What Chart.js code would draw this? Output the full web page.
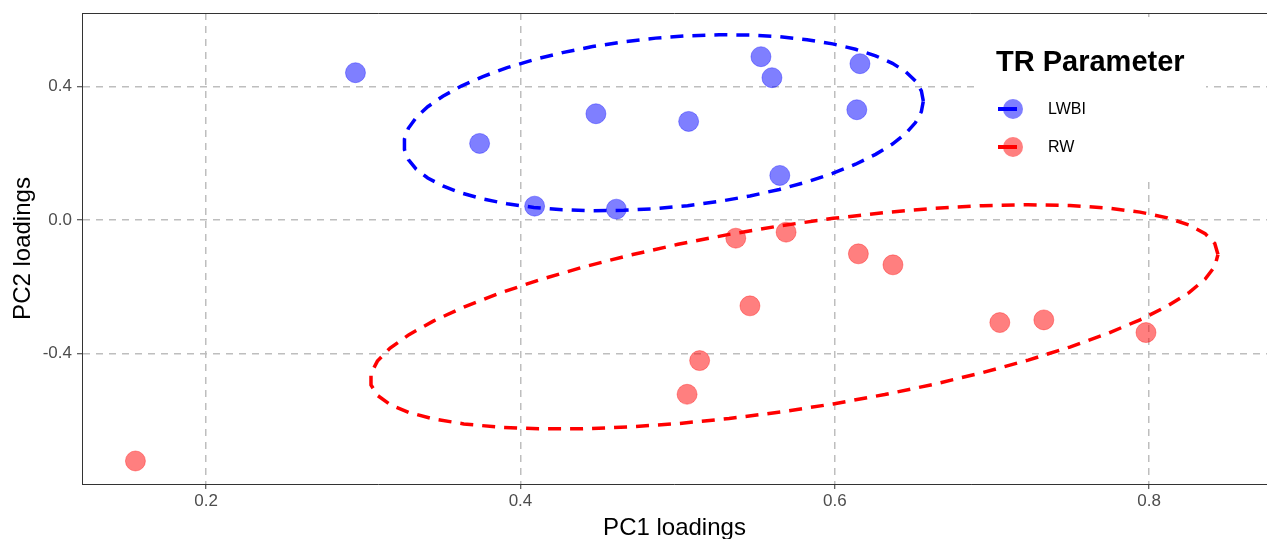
<!DOCTYPE html>
<html>
<head>
<meta charset="utf-8">
<script src="https://cdn.jsdelivr.net/npm/chart.js@4/dist/chart.umd.min.js"></script>
<style>
  html, body { margin: 0; padding: 0; background: #fff; }
  #wrap { width: 1267px; height: 539px; }
</style>
</head>
<body>
<div id="wrap"><canvas id="pcaChart" width="1267" height="539"></canvas></div>
<script>
// loadings
const lwbiPC1 = [0.295, 0.374, 0.409, 0.448, 0.461, 0.507, 0.553, 0.560, 0.565, 0.616, 0.614];
const lwbiPC2 = [0.442, 0.230, 0.042, 0.319, 0.033, 0.296, 0.490, 0.427, 0.134, 0.469, 0.331];
const rwPC1 = [0.155, 0.506, 0.514, 0.546, 0.537, 0.569, 0.615, 0.637, 0.705, 0.733, 0.798];
const rwPC2 = [-0.722, -0.522, -0.421, -0.257, -0.054, -0.036, -0.101, -0.134, -0.307, -0.299, -0.337];

const groups = ['LWBI', 'RW'];
const xTicks = [0.2, 0.4, 0.6, 0.8];
const yTicks = [-0.4, 0.0, 0.4];
const ellipseLevel = 0.68;

const pts = (xs, ys) => xs.map((x, i) => ({ x: x, y: ys[i] }));

// normal-theory ellipse from the group's mean and sample covariance
function ellipse(p) {
  const n = p.length;
  const mx = p.reduce((s, q) => s + q.x, 0) / n;
  const my = p.reduce((s, q) => s + q.y, 0) / n;
  let a = 0, b = 0, c = 0;
  p.forEach(q => { a += (q.x - mx) ** 2; b += (q.x - mx) * (q.y - my); c += (q.y - my) ** 2; });
  a /= n - 1; b /= n - 1; c /= n - 1;
  const dfd = n - 1;
  const qf = dfd / 2 * (Math.pow(1 - ellipseLevel, -2 / dfd) - 1); // qf(level, 2, dfd)
  const r = Math.sqrt(2 * qf);
  const r11 = Math.sqrt(a), r12 = b / r11, r22 = Math.sqrt(c - r12 * r12);
  const out = [];
  for (let k = 0; k <= 51; k++) {
    const t = k * 2 * Math.PI / 51;
    out.push({ x: mx + r * Math.cos(t) * r11, y: my + r * (Math.cos(t) * r12 + Math.sin(t) * r22) });
  }
  return out;
}

const lwbi = pts(lwbiPC1, lwbiPC2);
const rw = pts(rwPC1, rwPC2);

const blueFill = 'rgba(0,0,255,0.5)';
const redFill = 'rgba(255,0,0,0.5)';

const panelAndLegend = {
  id: 'panelAndLegend',
  afterDatasetsDraw(chart) {
    const { ctx, chartArea } = chart;
    ctx.save();
    // top border of the panel
    ctx.strokeStyle = '#333333';
    ctx.lineWidth = 1;
    ctx.beginPath();
    ctx.moveTo(chartArea.left, chartArea.top + 0.5);
    ctx.lineTo(chartArea.right, chartArea.top + 0.5);
    ctx.stroke();

    // legend box
    ctx.fillStyle = '#ffffff';
    ctx.fillRect(977, 17, 229, 163);
    ctx.fillStyle = '#000';
    ctx.font = 'bold 29px "Liberation Sans", Arial, sans-serif';
    ctx.textBaseline = 'middle';
    ctx.fillText('TR Parameter', 996, 63);

    const items = [[groups[0], blueFill, '#0000ff', 109], [groups[1], redFill, '#ff0000', 147]];
    items.forEach(([label, fill, line, y]) => {
      ctx.fillStyle = fill;
      ctx.beginPath();
      ctx.arc(1013, y, 10, 0, Math.PI * 2);
      ctx.fill();
      ctx.strokeStyle = line;
      ctx.lineWidth = 4;
      ctx.beginPath();
      ctx.moveTo(998, y);
      ctx.lineTo(1017, y);
      ctx.stroke();
      ctx.fillStyle = '#000';
      ctx.font = '16px "Liberation Sans", Arial, sans-serif';
      ctx.fillText(label, 1048, y + 1);
    });
    ctx.restore();
  }
};

const gridOpts = { color: '#bebebe', lineWidth: 1.5, drawTicks: true, tickLength: 5,
  tickColor: '#333333', tickWidth: 1, tickBorderDash: [] };
const borderOpts = { display: true, color: '#333333', width: 1, dash: [7, 6] };
const tickFont = { family: '"Liberation Sans", Arial', size: 17 };
const titleFont = { family: '"Liberation Sans", Arial', size: 24 };

const ctx = document.getElementById('pcaChart').getContext('2d');
new Chart(ctx, {
  type: 'scatter',
  data: {
    datasets: [
      {
        label: groups[0] + ' ellipse', data: ellipse(lwbi), showLine: true, fill: false,
        borderColor: '#0000ff', borderWidth: 3.5, borderDash: [13, 9], pointRadius: 0, tension: 0
      },
      {
        label: groups[1] + ' ellipse', data: ellipse(rw), showLine: true, fill: false,
        borderColor: '#ff0000', borderWidth: 3.5, borderDash: [13, 9], pointRadius: 0, tension: 0
      },
      {
        label: groups[0], data: lwbi, pointRadius: 10, pointBackgroundColor: blueFill,
        pointBorderColor: 'rgba(0,0,255,0.35)', pointBorderWidth: 1
      },
      {
        label: groups[1], data: rw, pointRadius: 10, pointBackgroundColor: redFill,
        pointBorderColor: 'rgba(255,0,0,0.35)', pointBorderWidth: 1
      }
    ]
  },
  options: {
    responsive: false,
    animation: false,
    layout: { autoPadding: false, padding: { top: 13, right: 0, left: 0, bottom: 0 } },
    plugins: { legend: { display: false }, tooltip: { enabled: false } },
    scales: {
      x: {
        type: 'linear', min: 0.121, max: 0.875,
        afterBuildTicks: s => { s.ticks = xTicks.map(v => ({ value: v })); },
        afterFit: s => { s.height = 55; s.paddingRight = 0; s.paddingLeft = 0; },
        ticks: { color: '#4d4d4d', font: tickFont, padding: 2, callback: v => v.toFixed(1) },
        grid: gridOpts,
        border: borderOpts,
        title: { display: true, text: 'PC1 loadings', color: '#000', font: titleFont, padding: { top: 0, bottom: -4 } }
      },
      y: {
        type: 'linear', min: -0.791, max: 0.621,
        afterBuildTicks: s => { s.ticks = yTicks.map(v => ({ value: v })); },
        afterFit: s => { s.width = 82; s.paddingTop = 0; s.paddingBottom = 0; },
        ticks: { color: '#4d4d4d', font: tickFont, padding: 5, callback: v => v.toFixed(1) },
        grid: gridOpts,
        border: borderOpts,
        title: { display: true, text: 'PC2 loadings', color: '#000', font: titleFont, padding: { top: 9, bottom: 8 } }
      }
    }
  },
  plugins: [panelAndLegend]
});
</script>
</body>
</html>
